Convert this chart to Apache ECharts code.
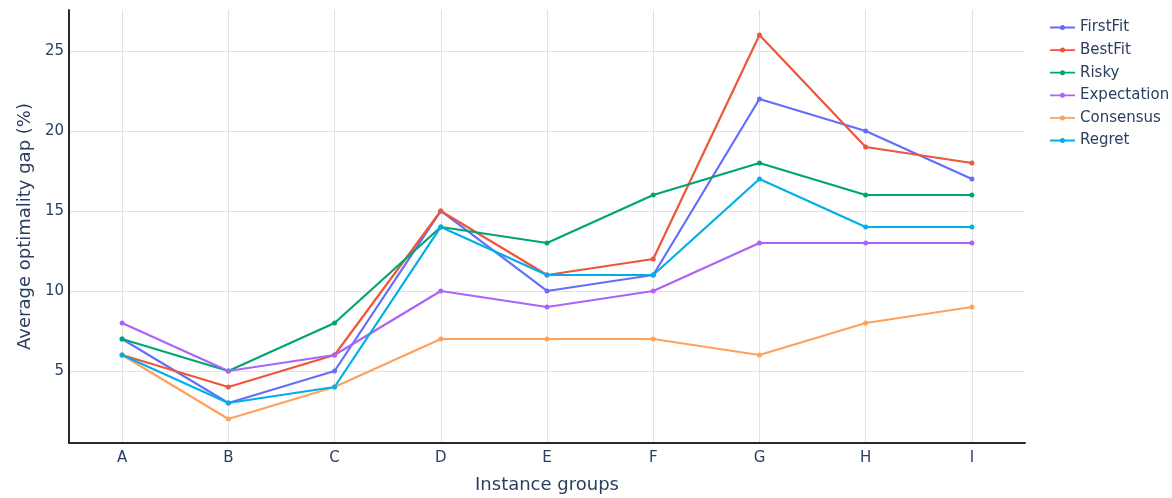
<!DOCTYPE html>
<html><head><meta charset="utf-8">
<script src="https://cdn.jsdelivr.net/npm/echarts@6/dist/echarts.min.js"></script>
<style>html,body{margin:0;padding:0;background:#fff}#c{width:1172px;height:498px}</style>
</head><body><div id="c"></div>
<script>
const categories = ['A','B','C','D','E','F','G','H','I'];
const firstFit    = [7, 3, 5, 15, 10, 11, 22, 20, 17];
const bestFit     = [6, 4, 6, 15, 11, 12, 26, 19, 18];
const risky       = [7, 5, 8, 14, 13, 16, 18, 16, 16];
const expectation = [8, 5, 6, 10, 9, 10, 13, 13, 13];
const consensus   = [6, 2, 4, 7, 7, 7, 6, 8, 9];
const regret      = [6, 3, 4, 14, 11, 11, 17, 14, 14];
const seriesNames = ['FirstFit','BestFit','Risky','Expectation','Consensus','Regret'];
const seriesData = [firstFit, bestFit, risky, expectation, consensus, regret];
const colors = ['#636efa','#ef553b','#00a574','#ab63fa','#ffa15a','#00aee8'];
const font = '"DejaVu Sans", Verdana, sans-serif';
const txt = '#2a3f5f';
const gridColor = '#e2e2e2';
// split line colours cycle per 0.5 step; only multiples of 5 visible
const splitColors = ['rgba(0,0,0,0)','rgba(0,0,0,0)','rgba(0,0,0,0)','rgba(0,0,0,0)','rgba(0,0,0,0)',
  'rgba(0,0,0,0)','rgba(0,0,0,0)','rgba(0,0,0,0)','rgba(0,0,0,0)', gridColor];
const legendIcon = 'path://M0,4.1 L25,4.1 L25,5.9 L0,5.9 Z M12.5,7.5 A2.5,2.5 0 1 1 12.5,2.5 A2.5,2.5 0 1 1 12.5,7.5 Z';
const chart = echarts.init(document.getElementById('c'));
chart.setOption({
  animation: false,
  color: colors,
  textStyle: {fontFamily: font},
  grid: {left: 69, right: 147, top: 10, bottom: 55, containLabel: false, outerBoundsMode: 'none'},
  legend: {
    orient: 'vertical', left: 1045, top: 15, itemWidth: 25, itemHeight: 14, itemGap: 7.6,
    textStyle: {fontFamily: font, fontSize: 15, color: txt},
    data: seriesNames.map((n, i) => ({name: n, icon: legendIcon, itemStyle: {color: colors[i]}}))
  },
  xAxis: {
    type: 'category', data: categories, boundaryGap: true,
    name: 'Instance groups', nameLocation: 'middle', nameGap: 33,
    nameTextStyle: {fontFamily: font, fontSize: 18, color: txt},
    axisLine: {show: true, lineStyle: {color: '#2a2a2a', width: 2}},
    axisTick: {show: false},
    axisLabel: {fontFamily: font, fontSize: 15, color: txt, margin: 8},
    splitLine: {show: true, alignWithLabel: true, lineStyle: {color: gridColor, width: 1}}
  },
  yAxis: {
    type: 'value', min: 0.5, max: 27.56, interval: 0.5,
    name: 'Average optimality gap (%)', nameLocation: 'middle', nameGap: 32,
    nameTextStyle: {fontFamily: font, fontSize: 18, color: txt},
    axisLine: {show: true, lineStyle: {color: '#2a2a2a', width: 2}},
    axisTick: {show: false},
    axisLabel: {fontFamily: font, fontSize: 15, color: txt, margin: 5,
      formatter: v => (Math.abs(v - Math.round(v / 5) * 5) < 1e-6 ? String(Math.round(v)) : '')},
    splitLine: {show: true, showMaxLine: false, lineStyle: {color: splitColors, width: 1}}
  },
  series: seriesNames.map((n, i) => ({
    name: n, type: 'line', data: seriesData[i],
    symbol: 'circle', symbolSize: 5, showSymbol: true,
    lineStyle: {width: 2.2}, itemStyle: {color: colors[i]}
  }))
});
</script></body></html>
